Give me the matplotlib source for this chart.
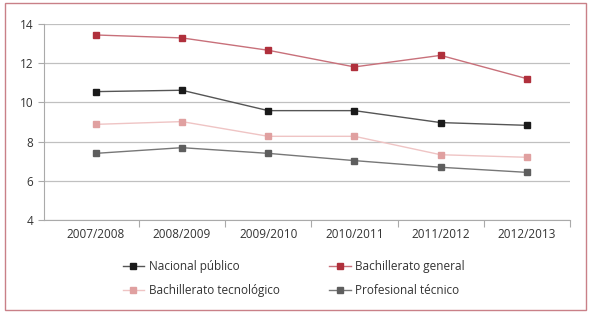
import matplotlib.pyplot as plt
from matplotlib.patches import Rectangle

years = ["2007/2008", "2008/2009", "2009/2010", "2010/2011", "2011/2012", "2012/2013"]
nacional = [10.55, 10.62, 9.58, 9.58, 8.97, 8.83]
general = [13.44, 13.29, 12.66, 11.81, 12.40, 11.21]
tecnologico = [8.88, 9.02, 8.27, 8.27, 7.33, 7.20]
profesional = [7.40, 7.69, 7.40, 7.03, 6.69, 6.43]

plt.rcParams['font.family'] = ['Open Sans', 'DejaVu Sans']

fig = plt.figure(figsize=(5.89, 3.14), dpi=100)
ax = fig.add_axes([44/589, 1-220/314, (570-44)/589, (220-24)/314])

x = list(range(len(years)))
# (label, data, line color, marker color)
series = [
    ("Nacional público", nacional, "#555555", "#1a1a1a"),
    ("Bachillerato general", general, "#c8707a", "#b0303c"),
    ("Bachillerato tecnológico", tecnologico, "#efc4c4", "#e0a0a0"),
    ("Profesional técnico", profesional, "#777777", "#5e5e5e"),
]
lines = {}
for label, vals, lc, mc in series:
    lines[label], = ax.plot(x, vals, color=lc, lw=1.0, marker="s", ms=4.8,
                            mfc=mc, mec=mc, label=label)

ax.set_ylim(4, 14)
ax.set_yticks([4, 6, 8, 10, 12, 14])
ax.set_xlim(-0.6, len(years) - 0.5)
ax.set_xticks([i + 0.5 for i in range(len(years))])
ax.set_xticklabels([])
ax.set_xticks(x, minor=True)
ax.set_xticklabels(years, minor=True)
ax.tick_params(axis="x", which="major", length=5, color="#aaaaaa", direction="out")
ax.tick_params(axis="x", which="minor", length=0, pad=6, labelsize=8.5, labelcolor="#333333")
ax.tick_params(axis="y", length=4, color="#aaaaaa", labelsize=8.5, labelcolor="#333333")
ax.grid(axis="y", color="#c0c0c0", lw=0.9)
ax.set_axisbelow(True)
for s in ["top", "right"]:
    ax.spines[s].set_visible(False)
for s in ["left", "bottom"]:
    ax.spines[s].set_color("#aaaaaa")

order = ["Nacional público", "Bachillerato tecnológico",
         "Bachillerato general", "Profesional técnico"]
ax.legend([lines[k] for k in order], order, loc="upper center",
          bbox_to_anchor=(0.475, -0.15), ncol=2, frameon=False,
          fontsize=8.5, handlelength=1.8, columnspacing=4.2, labelspacing=0.95,
          handletextpad=0.4, labelcolor="#333333", markerscale=0.85)

fig.patches.append(Rectangle((5/589, 1-310/314), 581/589, 307/314,
                             transform=fig.transFigure, fill=False,
                             edgecolor="#c98088", lw=1.0))

fig.savefig("out.png", dpi=100)
